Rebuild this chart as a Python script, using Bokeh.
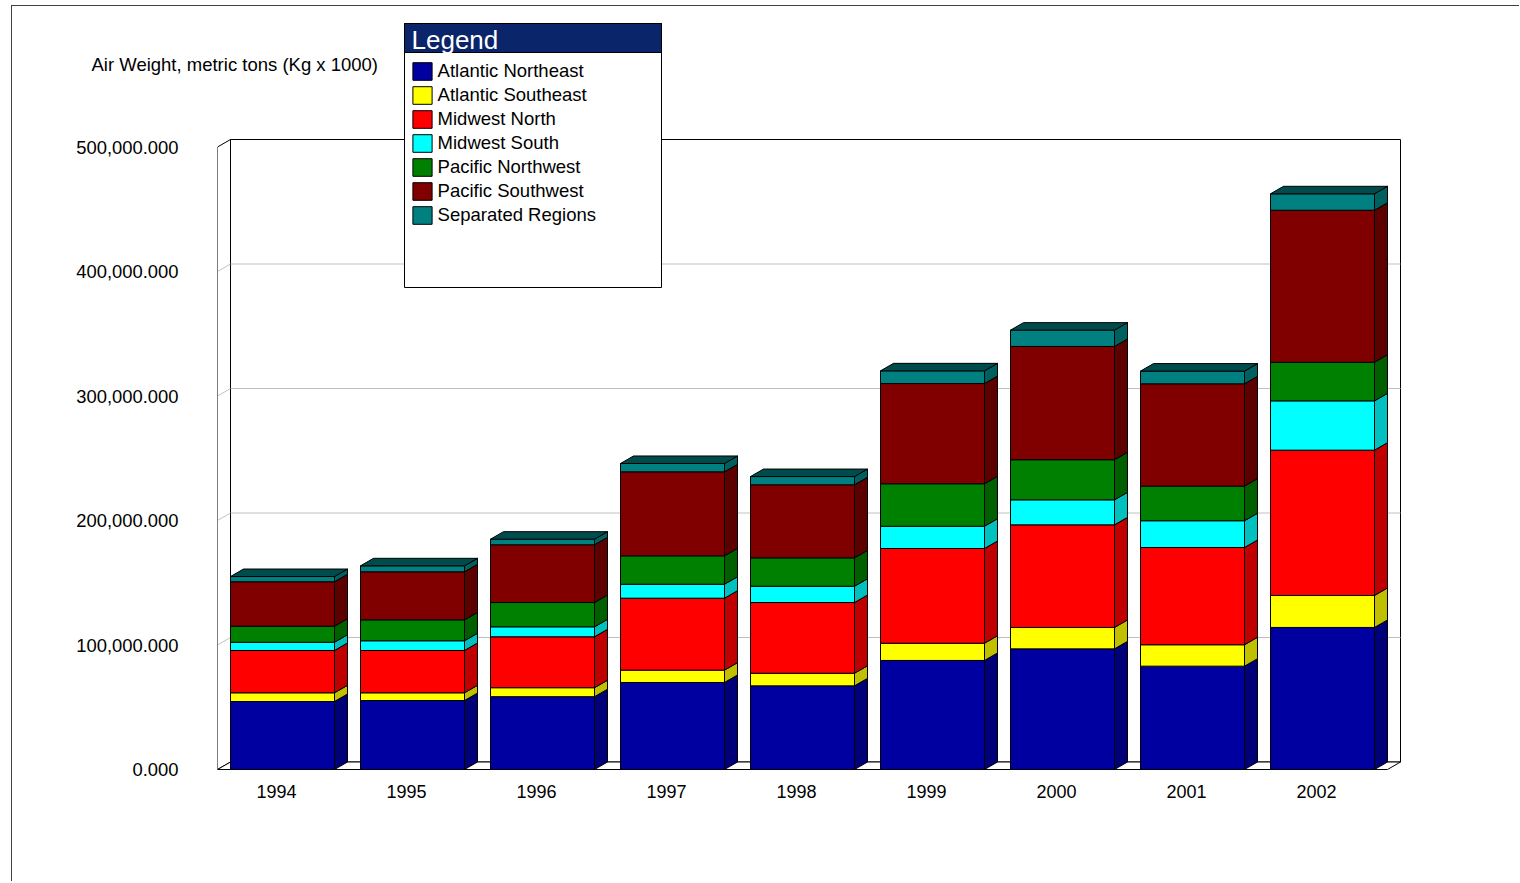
from bokeh.plotting import figure
from bokeh.models import (Range1d, FixedTicker, NumeralTickFormatter, Legend, LegendItem,
                          BoxAnnotation, Label, ColumnDataSource)
from bokeh.embed import file_html
from bokeh.resources import INLINE

# ---------------- data (metric tons) ----------------
years = ["1994", "1995", "1996", "1997", "1998", "1999", "2000", "2001", "2002"]
series_names = ["Atlantic Northeast", "Atlantic Southeast", "Midwest North", "Midwest South",
                "Pacific Northwest", "Pacific Southwest", "Separated Regions"]
atlantic_northeast = [54600, 55400, 58500, 69900, 67200, 87600, 96900, 83000, 114100]
atlantic_southeast = [7000, 6200, 7200, 9900, 10100, 13800, 17200, 17200, 25700]
midwest_north = [34000, 34000, 40900, 57800, 56800, 76100, 82400, 78100, 116700]
midwest_south = [6600, 7800, 8000, 11200, 13100, 17900, 20100, 21500, 39600]
pacific_northwest = [12900, 16800, 19500, 22800, 22800, 34100, 32200, 27800, 31000]
pacific_southwest = [35700, 38600, 46400, 67500, 58700, 80500, 91000, 82200, 122100]
separated_regions = [4200, 4800, 4500, 6700, 6600, 10200, 13100, 10200, 13200]
y_ticks = [0, 100000, 200000, 300000, 400000, 500000]

series_values = [atlantic_northeast, atlantic_southeast, midwest_north, midwest_south,
                 pacific_northwest, pacific_southwest, separated_regions]
front_colors = ["#0000A0", "#FFFF00", "#FF0000", "#00FFFF", "#008000", "#800000", "#008080"]
side_colors = ["#000078", "#C0C000", "#C00000", "#00C0C0", "#006000", "#5C0000", "#006060"]
top_color = "#004C4C"

# ---------------- layout (screen pixels) ----------------
PAGE_X, PAGE_Y = 12, 6          # canvas origin on the page (after margin + border)
W, H = 1508, 876
FRAME_L, FRAME_T, FRAME_R, FRAME_B = 217, PAGE_Y, PAGE_X + W, 775
PX_PER_CAT = 130.0
ZERO_Y = 769.0
PX_PER_UNIT = 0.001245
LABEL0_X = 276.0

def sx_to_x(sx):
    return (sx - LABEL0_X) / PX_PER_CAT

def sy_to_y(sy):
    return (ZERO_Y - sy) / PX_PER_UNIT

BAR_OFF = 6 / PX_PER_CAT
BAR_HALF = 0.4
DX = 13 / PX_PER_CAT
DY = 7.5 / PX_PER_UNIT
n = len(years)
XL = -0.5 + BAR_OFF
XR = n - 0.5 + BAR_OFF
WALL_TOP = y_ticks[-1]

FONT = "Liberation Sans"

p = figure(width=W, height=H, output_backend="svg", toolbar_location=None,
           x_range=Range1d(sx_to_x(FRAME_L), sx_to_x(FRAME_R)),
           y_range=Range1d(sy_to_y(FRAME_B), sy_to_y(FRAME_T)),
           min_border_left=FRAME_L - PAGE_X, min_border_right=0, min_border_top=0,
           min_border_bottom=H - (FRAME_B - PAGE_Y))
p.styles = {"margin-left": "11px", "margin-top": "5px",
            "border-left": "1px solid #404040", "border-top": "1px solid #404040"}
p.outline_line_color = None
p.xgrid.visible = False
p.ygrid.visible = False
p.background_fill_color = "white"
p.border_fill_color = "white"

# y axis
p.yaxis.ticker = FixedTicker(ticks=y_ticks)
p.yaxis.formatter = NumeralTickFormatter(format="0,0.000")
p.yaxis.axis_line_color = None
p.yaxis.major_tick_line_color = None
p.yaxis.minor_tick_line_color = None
p.yaxis.major_tick_out = 0
p.yaxis.major_tick_in = 0
p.yaxis.major_label_standoff = 39
p.yaxis.major_label_text_font = FONT
p.yaxis.major_label_text_font_size = "18.4px"
p.yaxis.major_label_text_color = "black"

# x axis
p.xaxis.ticker = FixedTicker(ticks=list(range(n)))
p.xaxis.major_label_overrides = {i: y for i, y in enumerate(years)}
p.xaxis.axis_line_color = None
p.xaxis.major_tick_line_color = None
p.xaxis.minor_tick_line_color = None
p.xaxis.major_tick_out = 0
p.xaxis.major_tick_in = 0
p.xaxis.major_label_standoff = 9
p.xaxis.major_label_text_font = FONT
p.xaxis.major_label_text_font_size = "18px"
p.xaxis.major_label_text_color = "black"

# ---------------- walls ----------------
p.quad(left=[XL + DX], right=[XR + DX], bottom=[DY], top=[WALL_TOP + DY],
       fill_color="white", line_color="black", line_width=1)
grid_vals = y_ticks[1:-1]
p.multi_line(xs=[[XL, XL + DX, XR + DX] for v in grid_vals],
             ys=[[v, v + DY, v + DY] for v in grid_vals],
             line_color="#C0C0C0", line_width=1)
p.patches(xs=[[XL, XL, XL + DX, XL + DX]], ys=[[0, WALL_TOP, WALL_TOP + DY, DY]],
          fill_color="white", line_color="black", line_width=1)
p.multi_line(xs=[[XL, XL + DX] for v in grid_vals], ys=[[v, v + DY] for v in grid_vals],
             line_color="#C0C0C0", line_width=1)
p.patches(xs=[[XL, XR, XR + DX, XL + DX]], ys=[[0, 0, DY, DY]],
          fill_color="white", line_color="black", line_width=1)

# ---------------- bars ----------------
centers = [i + BAR_OFF for i in range(n)]
x0 = [c - BAR_HALF for c in centers]
x1 = [c + BAR_HALF for c in centers]
cum = [0.0] * n
front_renderers = []
for k, vals in enumerate(series_values):
    bottom = cum[:]
    top = [b + v for b, v in zip(bottom, vals)]
    cum = top
    src = ColumnDataSource(dict(left=x0, right=x1, bottom=bottom, top=top))
    r = p.quad(left="left", right="right", bottom="bottom", top="top", source=src,
               fill_color=front_colors[k], line_color="black", line_width=1)
    front_renderers.append(r)
    side_xs = [[a, a + DX, a + DX, a] for a in x1]
    side_ys = [[b, b + DY, t + DY, t] for b, t in zip(bottom, top)]
    p.patches(xs=side_xs, ys=side_ys, fill_color=side_colors[k], line_color="black", line_width=1)
    if k == len(series_values) - 1:
        top_xs = [[a, a + DX, b + DX, b] for a, b in zip(x0, x1)]
        top_ys = [[t, t + DY, t + DY, t] for t in top]
        p.patches(xs=top_xs, ys=top_ys, fill_color=top_color, line_color="black", line_width=1)

# ---------------- texts & legend ----------------
# axis title sits in a side panel so that it is not clipped by the plot frame
p.add_layout(Label(x=sx_to_x(91), y=sy_to_y(64), text="Air Weight, metric tons (Kg x 1000)",
                   text_font=FONT, text_font_size="18.5px", text_color="black",
                   text_baseline="middle", text_align="left"), "below")

p.add_layout(BoxAnnotation(left=sx_to_x(404), right=sx_to_x(661), top=sy_to_y(23),
                           bottom=sy_to_y(287), fill_color="white", fill_alpha=1,
                           line_color="black", line_width=1, line_alpha=1))
p.add_layout(BoxAnnotation(left=sx_to_x(404), right=sx_to_x(661), top=sy_to_y(23),
                           bottom=sy_to_y(52), fill_color="#0A2569", fill_alpha=1,
                           line_color="black", line_width=1, line_alpha=1))
p.add_layout(Label(x=sx_to_x(411), y=sy_to_y(39), text="Legend", text_font=FONT,
                   text_font_size="26px", text_color="white", text_baseline="middle"))

ITEM_H, SP = 22, 2
leg_h = len(series_names) * ITEM_H + (len(series_names) - 1) * SP
legend = Legend(items=[LegendItem(label=nm, renderers=[r]) for nm, r in zip(series_names, front_renderers)],
                location=(409.6 - FRAME_L, FRAME_B - (60 + leg_h)),
                padding=0, margin=0, spacing=SP, glyph_width=24, glyph_height=ITEM_H,
                label_height=ITEM_H, label_standoff=4, label_text_font=FONT,
                label_text_font_size="18.5px", label_text_color="black",
                background_fill_alpha=0, border_line_color=None)
p.add_layout(legend)

open("out.html", "w").write(file_html(p, INLINE))
